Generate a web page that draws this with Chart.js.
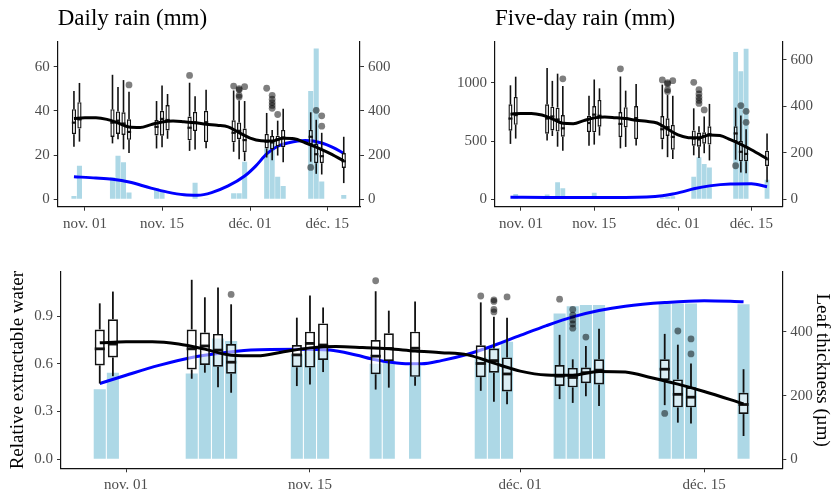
<!DOCTYPE html>
<html>
<head>
<meta charset="utf-8">
<script src="https://cdn.jsdelivr.net/npm/chart.js@4.4.1/dist/chart.umd.min.js"></script>
<style>
    body { margin: 0; background: #fff; width: 831px; height: 491px; overflow: hidden; position: relative; }
    .pannello { position: absolute; }
</style>
</head>
<body>
<div class="pannello" style="left:0;top:0;width:415px;height:240px"><canvas id="graficoDaily"></canvas></div>
<div class="pannello" style="left:415px;top:0;width:416px;height:240px"><canvas id="graficoFive"></canvas></div>
<div class="pannello" style="left:0;top:240px;width:831px;height:251px"><canvas id="graficoRew"></canvas></div>
<script>
const tickDays = [0, 14, 30, 44]
const tickLabels = ['nov. 01', 'nov. 15', 'déc. 01', 'déc. 15']

// giorni di campionamento (0 = 1 novembre)
const sampleDays = [-2, -1, 5, 6, 7, 8, 13, 14, 15, 19, 20, 22, 27, 28, 29, 33, 34, 35, 36, 41, 42, 43, 47]

// spessore fogliare (µm)
const boxLow  = [238, 261, 253, 272, 226, 209, 230, 235, 274, 219, 225, 231, 215, 181, 173, 189, 177, 198, 167, 170, 115, 112, 73]
const boxQ1   = [295, 320, 282, 296, 291, 269, 289, 288, 312, 267, 309, 259, 258, 272, 213, 230, 226, 239, 235, 249, 163, 163, 142]
const boxMed  = [347, 362, 347, 356, 343, 305, 328, 364, 359, 324, 348, 349, 301, 310, 268, 261, 257, 272, 280, 283, 204, 195, 172]
const boxQ3   = [408, 440, 408, 398, 394, 362, 359, 401, 427, 375, 396, 401, 358, 348, 320, 296, 287, 288, 314, 314, 251, 226, 209]
const boxHigh = [490, 527, 564, 509, 540, 487, 445, 515, 477, 528, 467, 496, 493, 448, 445, 391, 314, 356, 410, 394, 360, 301, 283]

const outlierDays = [8, 19, 27, 28, 28, 28, 28, 29, 33, 34, 34, 34, 34, 34, 35, 41, 42, 43, 43]
const outlierVals = [518, 561, 513, 501, 496, 471, 463, 510, 503, 471, 453, 438, 425, 412, 384, 144, 403, 378, 331]

const thickFitDays = [-2, 0, 2, 4, 6, 8, 10, 12, 14, 16, 18, 20, 22, 24, 26, 28, 30, 32, 34, 36, 38, 40, 42, 44, 47]
const thickFit     = [366, 369, 369, 362, 346, 327, 325, 338, 350, 354, 351, 347, 340, 335, 328, 302, 277, 265, 264, 276, 274, 256, 236, 213, 174]

// pioggia giornaliera (mm)
const dailyRain = [1.5, 15.2, 10, 19.7, 16.7, 3, 5, 3.5, 0, 0, 7.5, 0.3, 2.7, 2.7, 17, 23, 26, 10.2, 6, 49, 68.3, 8, 1.9]
const dailyFitDays = [-2, 2, 5, 8, 12, 15, 18, 20.5, 23, 26, 29, 31, 33, 35, 37, 40, 43, 45, 47]
const dailyFit     = [10.2, 9.6, 9.0, 7.8, 5.0, 3.2, 2.0, 1.8, 3.0, 6.0, 10.5, 15, 20.5, 24, 25.6, 26.6, 25.5, 23.5, 20.8]

// pioggia su cinque giorni (mm)
const fiveDayRain = [0, 45, 40, 0, 146, 95, 0, 55, 0, 0, 0, 0, 15, 20, 25, 194, 362, 303, 274, 1266, 1100, 1295, 168]
const fiveFitDays = [-2, 5, 10, 15, 20, 24, 27, 29, 31, 33, 36, 40, 44, 47]
const fiveFit     = [17, 16, 16, 15, 15, 19, 30, 45, 66, 90, 115, 131, 133, 108]

// acqua estraibile relativa
const rewValues = [0.44, 0.543, 0.539, 0.65, 0.759, 0.744, 0.66, 0.70, 0.70, 0.60, 0.62, 0.59, 0.64, 0.70, 0.738, 0.916, 0.962, 0.97, 0.97, 0.979, 0.979, 0.979, 0.975]
const rewFitDays = [-2, 0, 2.5, 5, 7, 9.5, 13, 15.5, 17.5, 19, 21, 22.5, 24, 26, 28, 30, 32, 34, 36, 38, 41, 44, 47]
const rewFit     = [0.476, 0.528, 0.59, 0.64, 0.665, 0.686, 0.692, 0.686, 0.655, 0.625, 0.602, 0.60, 0.62, 0.66, 0.715, 0.778, 0.84, 0.895, 0.935, 0.962, 0.985, 0.997, 0.99]

const dailyTicks = [0, 20, 40, 60]
const fiveTicks = [0, 500, 1000]
const rewTicks = [0, 0.3, 0.6, 0.9]
const thickTicksTop = [0, 200, 400, 600]
const thickTicksBottom = [0, 200, 400]

const fontSerif = 'Liberation Serif'

function linea(ctx, x1, y1, x2, y2) {
    ctx.beginPath()
    ctx.moveTo(x1, y1)
    ctx.lineTo(x2, y2)
    ctx.stroke()
}

// baffi e mediane disegnati sopra le scatole
const boxPlugin = {
    id: 'boxWhiskers',
    afterDatasetDraw(chart, args) {
        const ds = chart.data.datasets[args.index]
        if(!ds.isBox) return
        const ctx = chart.ctx
        const y = chart.scales.y1
        ctx.save()
        ctx.strokeStyle = '#111'
        ctx.lineCap = 'butt'
        args.meta.data.forEach((bar, i) => {
            ctx.lineWidth = ds.whiskerWidth
            linea(ctx, bar.x, y.getPixelForValue(boxLow[i]), bar.x, y.getPixelForValue(boxQ1[i]))
            linea(ctx, bar.x, y.getPixelForValue(boxQ3[i]), bar.x, y.getPixelForValue(boxHigh[i]))
            ctx.lineWidth = ds.medianWidth
            let ym = y.getPixelForValue(boxMed[i])
            linea(ctx, bar.x - bar.width / 2, ym, bar.x + bar.width / 2, ym)
        })
        ctx.restore()
    }
}

function asse(cfg) {
    return {
        type: 'linear',
        position: cfg.position,
        min: cfg.min,
        max: cfg.max,
        offset: false,
        afterBuildTicks: (a) => { a.ticks = cfg.ticks.map((v) => ({ value: v })) },
        afterFit: cfg.afterFit,
        ticks: {
            callback: cfg.format,
            font: { family: fontSerif, size: 15 },
            color: '#4d4d4d',
            padding: 4,
            autoSkip: false,
            maxRotation: 0
        },
        grid: { display: true, drawOnChartArea: false, drawTicks: true, tickLength: 4, color: '#333', offset: false },
        border: { display: true, color: '#111', width: 1.2 },
        title: cfg.title || { display: false }
    }
}

function creaPannello(id, p) {
    const elemento = document.getElementById(id)

    new Chart(elemento, {
        type: 'bar',
        data: {
            datasets: [
                {
                    type: 'line',
                    data: thickFitDays.map((d, i) => ({ x: d, y: thickFit[i] })),
                    yAxisID: 'y1',
                    borderColor: '#000',
                    borderWidth: p.lineWidth,
                    pointRadius: 0,
                    cubicInterpolationMode: 'monotone',
                    order: 1
                },
                {
                    type: 'scatter',
                    data: outlierDays.map((d, i) => ({ x: d, y: outlierVals[i] })),
                    yAxisID: 'y1',
                    backgroundColor: 'rgba(0,0,0,0.5)',
                    borderWidth: 0,
                    pointRadius: 3.4,
                    order: 2
                },
                {
                    type: 'bar',
                    isBox: true,
                    whiskerWidth: p.whiskerWidth,
                    medianWidth: p.medianWidth,
                    data: sampleDays.map((d, i) => ({ x: d, y: [boxQ1[i], boxQ3[i]] })),
                    yAxisID: 'y1',
                    backgroundColor: 'rgba(255,255,255,0.55)',
                    borderColor: '#111',
                    borderWidth: p.boxBorder,
                    borderSkipped: false,
                    grouped: false,
                    barPercentage: 0.77,
                    categoryPercentage: 1,
                    order: 3
                },
                {
                    type: 'line',
                    data: p.fitDays.map((d, i) => ({ x: d, y: p.fit[i] })),
                    yAxisID: 'y',
                    borderColor: '#0000ff',
                    borderWidth: p.lineWidth,
                    pointRadius: 0,
                    cubicInterpolationMode: 'monotone',
                    order: 4
                },
                {
                    type: 'bar',
                    data: sampleDays.map((d, i) => ({ x: d, y: p.bars[i] })),
                    yAxisID: 'y',
                    backgroundColor: '#add8e6',
                    borderWidth: 0,
                    grouped: false,
                    barPercentage: 0.92,
                    categoryPercentage: 1,
                    order: 5
                }
            ]
        },
        options: {
            responsive: true,
            maintainAspectRatio: false,
            animation: false,
            layout: { padding: { top: p.padTop, left: 0, right: 0, bottom: 0 } },
            scales: {
                x: asse({
                    position: 'bottom', min: -4.95, max: 49.95, ticks: tickDays,
                    format: (v) => tickLabels[tickDays.indexOf(v)],
                    afterFit: (s) => { s.height = p.xHeight }
                }),
                y: asse({
                    position: 'left', min: p.yMin, max: p.yMax, ticks: p.yTicks,
                    format: p.yFormat,
                    afterFit: (s) => { s.width = p.leftWidth },
                    title: p.yTitle
                }),
                y1: asse({
                    position: 'right', min: p.y1Min, max: p.y1Max, ticks: p.y1Ticks,
                    format: (v) => String(v),
                    afterFit: (s) => { s.width = p.rightWidth },
                    title: p.y1Title
                })
            },
            plugins: {
                legend: { display: false },
                tooltip: { enabled: false },
                title: p.title || { display: false }
            }
        },
        plugins: [boxPlugin]
    })
}

function titoloPannello(testo) {
    return {
        display: true,
        text: testo,
        align: 'start',
        fullSize: false,
        color: '#000',
        font: { family: fontSerif, size: 23, weight: 'normal', lineHeight: 1.2 },
        padding: { top: 5, bottom: 9.1 }
    }
}

creaPannello('graficoDaily', {
    bars: dailyRain, fitDays: dailyFitDays, fit: dailyFit,
    yMin: -3.4, yMax: 71.4, yTicks: dailyTicks, yFormat: (v) => String(v),
    y1Min: -34, y1Max: 714, y1Ticks: thickTicksTop,
    leftWidth: 57.7, rightWidth: 55, xHeight: 33.3, padTop: 0,
    lineWidth: 3, whiskerWidth: 1.6, medianWidth: 2.2, boxBorder: 1.4,
    title: titoloPannello('Daily rain (mm)')
})

creaPannello('graficoFive', {
    bars: fiveDayRain, fitDays: fiveFitDays, fit: fiveFit,
    yMin: -64, yMax: 1355, yTicks: fiveTicks, yFormat: (v) => String(v),
    y1Min: -32, y1Max: 677.5, y1Ticks: thickTicksTop,
    leftWidth: 80, rightWidth: 48.5, xHeight: 33.3, padTop: 0,
    lineWidth: 3, whiskerWidth: 1.6, medianWidth: 2.2, boxBorder: 1.4,
    title: titoloPannello('Five-day rain (mm)')
})

creaPannello('graficoRew', {
    bars: rewValues, fitDays: rewFitDays, fit: rewFit,
    yMin: -0.057, yMax: 1.177, yTicks: rewTicks, yFormat: (v) => v.toFixed(1),
    y1Min: -28.5, y1Max: 588.5, y1Ticks: thickTicksBottom,
    leftWidth: 61, rightWidth: 48.7, xHeight: 22.7, padTop: 32,
    lineWidth: 3, whiskerWidth: 1.8, medianWidth: 2.8, boxBorder: 1.7,
    yTitle: {
        display: true, text: 'Relative extractable water', color: '#000',
        font: { family: fontSerif, size: 19, lineHeight: 1.2 }, padding: { top: 7, bottom: 0 }
    },
    y1Title: {
        display: true, text: 'Leaf thickness (µm)', color: '#000',
        font: { family: fontSerif, size: 19, lineHeight: 1 }, padding: { top: 0, bottom: 0 }
    }
})
</script>
</body>
</html>
